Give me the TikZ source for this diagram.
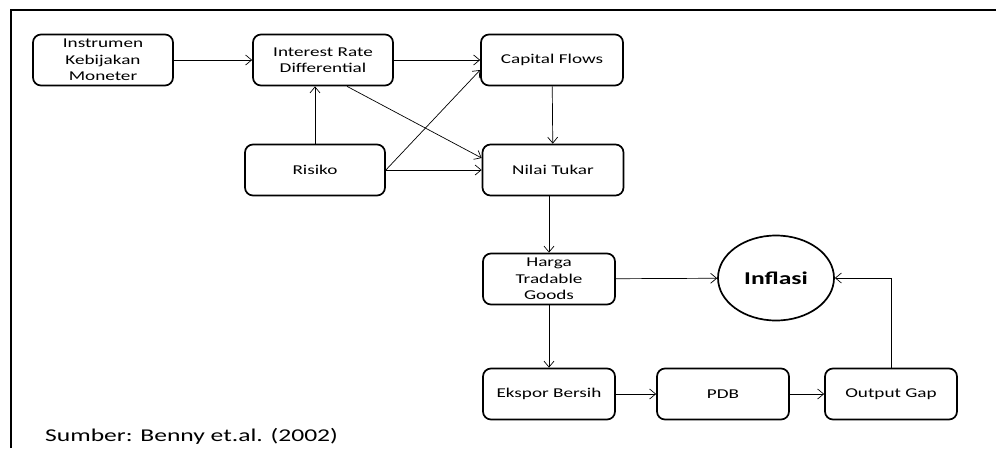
\documentclass[tikz,border=0pt]{standalone}
\usepackage{fontspec}
\setmainfont{Carlito}[FakeStretch=1.42]
\usetikzlibrary{arrows.meta}
\usetikzlibrary{shapes.geometric}
\usetikzlibrary{calc}

\begin{document}
\begin{tikzpicture}[x=1pt,y=-1pt,
    kotak/.style={draw,line width=1.7pt,rounded corners=8pt,minimum width=140pt,
        minimum height=51pt,align=center,inner sep=0pt,
        font=\fontsize{13.5}{16.5}\selectfont},
    panah/.style={-{Straight Barb[length=6pt,width=10pt]},line width=0.7pt}]
    \useasboundingbox (0,0) rectangle (996,448);
    \draw[line width=2pt] (11,448) -- (11,10) -- (996,10);

    % baris atas
    \node[kotak] (instrumen) at (103,60) {Instrumen\\Kebijakan\\Moneter};
    \node[kotak] (ird) at (323,60) {Interest Rate\\Differential};
    \node[kotak,minimum width=142pt] (cf) at (552,60) {Capital Flows};
    \node[kotak] (risiko) at (315,170) {Risiko};
    \node[kotak,minimum width=141pt] (nt) at (553,170) {Nilai Tukar};

    % baris bawah
    \node[kotak,minimum width=132pt] (harga) at (549,279) {Harga\\Tradable\\Goods};
    \node[draw,ellipse,line width=1.7pt,minimum width=116pt,minimum height=85pt,
        inner sep=0pt,font=\fontsize{18}{20}\selectfont\bfseries] (inflasi) at (776,278) {Inflasi};
    \node[kotak,minimum width=132pt] (ekspor) at (549,394) {Ekspor Bersih};
    \node[kotak,minimum width=132pt] (pdb) at (723,394) {PDB};
    \node[kotak,minimum width=132pt] (og) at (891,394) {Output Gap};

    \node[anchor=base west,inner sep=0pt,font=\fontsize{18}{20}\selectfont] (sumber) at (45,441)
        {Sumber: Benny et.al. (2002)};

    \draw[panah] (instrumen) -- (ird);
    \draw[panah] (ird) -- (cf);
    \draw[panah] (risiko) -- (ird.south -| risiko);
    \draw[panah] ($(ird.south)+(24,0)$) -- ($(nt.west)+(0,-12)$);
    \draw[panah] (risiko.east) -- ($(cf.west)+(0,10)$);
    \draw[panah] (risiko) -- (nt);
    \draw[panah] (cf) -- (nt);
    \draw[panah] (nt.south -| harga) -- (harga);
    \draw[panah] (harga) -- (inflasi);
    \draw[panah] (harga) -- (ekspor);
    \draw[panah] (ekspor) -- (pdb);
    \draw[panah] (pdb) -- (og);
    \draw[panah] (og.north) |- (inflasi.east);
\end{tikzpicture}
\end{document}
